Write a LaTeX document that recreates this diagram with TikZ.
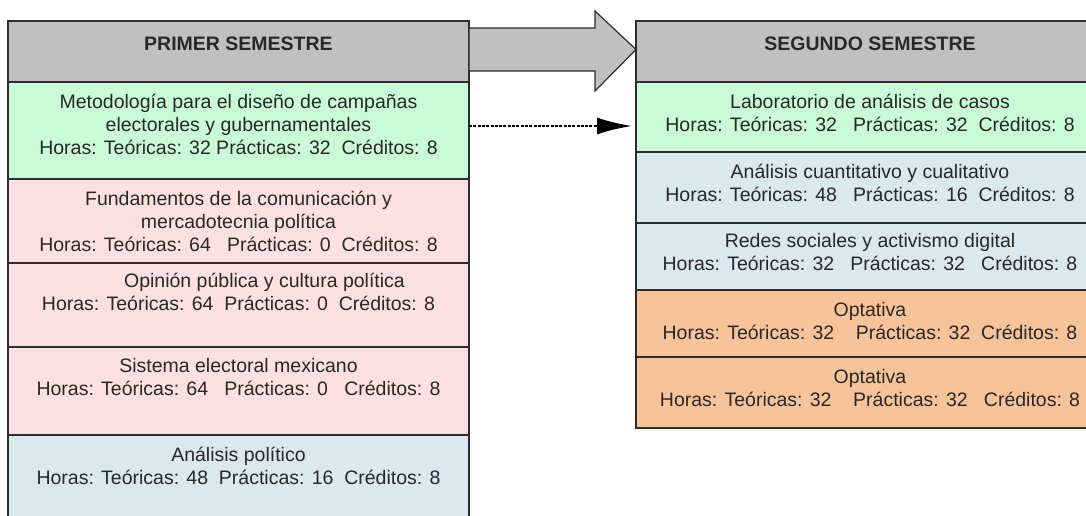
\documentclass[tikz,border=0pt]{standalone}
\usepackage{fontspec}
\setmainfont{Liberation Sans}
\usetikzlibrary{arrows.meta}

\definecolor{gris}{RGB}{192,192,192}
\definecolor{verde}{RGB}{201,251,214}
\definecolor{rosa}{RGB}{253,224,224}
\definecolor{azul}{RGB}{218,232,239}
\definecolor{naranja}{RGB}{249,195,154}
\definecolor{borde}{RGB}{45,45,45}
\definecolor{letra}{RGB}{40,40,40}

\tikzset{
  caja/.style={draw=borde, line width=1.5pt, fill=#1, anchor=north west,
    inner sep=0pt, outer sep=0pt},
  texto/.style={anchor=north, align=center, inner sep=0pt, text=letra,
    font=\fontsize{19.5}{23}\selectfont, execute at begin node=\strut},
  titulo/.style={texto, font=\fontsize{19.5}{23}\selectfont\bfseries},
  flechagrande/.style={draw=borde, line width=1.2pt, fill=gris, line join=miter},
  punteada/.style={draw=black, line width=2.3pt, dash pattern=on 3pt off 1.3pt,
    -{Latex[length=35pt, width=17pt]}, shorten >=4pt},
}

\begin{document}
\begin{tikzpicture}[x=1pt, y=-1pt]
    \path[use as bounding box, clip] (0,0) rectangle (1086,516);

    % Primer semestre
    \node[caja=gris, minimum width=461pt, minimum height=61pt] (p0) at (8,21) {};
    \node[caja=verde, minimum width=461pt, minimum height=97pt] (p1) at (8,82) {};
    \node[caja=rosa, minimum width=461pt, minimum height=84pt] (p2) at (8,179) {};
    \node[caja=rosa, minimum width=461pt, minimum height=84pt] (p3) at (8,263) {};
    \node[caja=rosa, minimum width=461pt, minimum height=88pt] (p4) at (8,347) {};
    \node[caja=azul, minimum width=461pt, minimum height=110pt] (p5) at (8,435) {};

    \node[titulo] (p0t) at ([yshift=-13pt]p0.north) {PRIMER SEMESTRE};
    \node[texto] (p1t) at ([yshift=-11.5pt]p1.north) {Metodología para el diseño de campañas\\electorales y gubernamentales\\Horas: Teóricas: 32 Prácticas: 32\ \ Créditos: 8};
    \node[texto] (p2t) at ([yshift=-11.5pt]p2.north) {Fundamentos de la comunicación y\\mercadotecnia política\\Horas: Teóricas: 64\ \ \ Prácticas: 0\ \ Créditos: 8};
    \node[texto] (p3t) at ([yshift=-10pt]p3.north) {\hspace*{52pt}Opinión pública y cultura política\\Horas: Teóricas: 64\ \ Prácticas: 0\ \ Créditos: 8};
    \node[texto] (p4t) at ([yshift=-11.5pt]p4.north) {Sistema electoral mexicano\\Horas: Teóricas: 64\ \ \ Prácticas: 0\ \ \ Créditos: 8};
    \node[texto] (p5t) at ([yshift=-11.5pt]p5.north) {Análisis político\\Horas: Teóricas: 48\ \ Prácticas: 16\ \ Créditos: 8};

    % Segundo semestre
    \node[caja=gris, minimum width=468pt, minimum height=61pt] (s0) at (636,21) {};
    \node[caja=verde, minimum width=468pt, minimum height=70pt] (s1) at (636,82) {};
    \node[caja=azul, minimum width=468pt, minimum height=71pt] (s2) at (636,152) {};
    \node[caja=azul, minimum width=468pt, minimum height=67pt] (s3) at (636,223) {};
    \node[caja=naranja, minimum width=468pt, minimum height=67pt] (s4) at (636,290) {};
    \node[caja=naranja, minimum width=468pt, minimum height=71pt] (s5) at (636,357) {};

    \node[titulo] (s0t) at ([yshift=-13pt]s0.north) {SEGUNDO SEMESTRE};
    \node[texto] (s1t) at ([yshift=-11.5pt]s1.north) {Laboratorio de análisis de casos\\Horas: Teóricas: 32\ \ \ Prácticas: 32\ \ Créditos: 8};
    \node[texto] (s2t) at ([yshift=-11.5pt]s2.north) {Análisis cuantitativo y cualitativo\\Horas: Teóricas: 48\ \ \ Prácticas: 16\ \ Créditos: 8};
    \node[texto] (s3t) at ([yshift=-10pt]s3.north) {Redes sociales y activismo digital\\Horas: Teóricas: 32\ \ \ Prácticas: 32\ \ \ Créditos: 8};
    \node[texto] (s4t) at ([yshift=-12pt]s4.north) {Optativa\\Horas: Teóricas: 32\ \ \ \ Prácticas: 32\ \ Créditos: 8};
    \node[texto] (s5t) at ([yshift=-12pt]s5.north) {Optativa\\Horas: Teóricas: 32\ \ \ \ Prácticas: 32\ \ \ Créditos: 8};

    % Flecha entre semestres
    \draw[flechagrande] (p0.east |- 0,28) -- (595,28) -- (595,11)
        -- ([yshift=2pt]s0.west) -- (595,91) -- (595,71) -- (p0.east |- 0,71) -- cycle;

    % Seriación
    \coordinate (d0) at ([yshift=4.5pt]p1.east);
    \draw[punteada] (d0) -- (d0 -| s1.west);
\end{tikzpicture}
\end{document}
